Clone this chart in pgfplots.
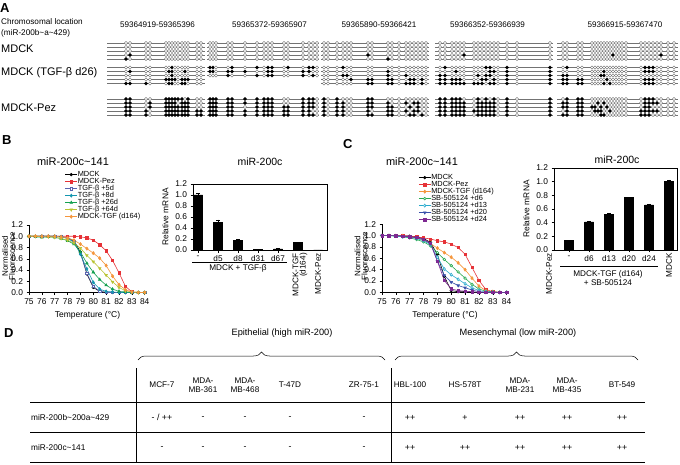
\documentclass[border=0pt]{standalone}
\usepackage{fontspec}
\setmainfont{Liberation Sans}
\usepackage{pgfplots}
\pgfplotsset{compat=1.18}
\usepackage{pgfplotstable}
\usetikzlibrary{decorations.pathreplacing}
\newcommand\fs[1]{\fontsize{#1}{#1}\selectfont}
\definecolor{cPez}{RGB}{230,50,55}
\definecolor{cFive}{RGB}{90,100,175}
\definecolor{cEight}{RGB}{20,150,175}
\definecolor{cTsix}{RGB}{20,160,80}
\definecolor{cSfour}{RGB}{185,195,50}
\definecolor{cOra}{RGB}{245,150,60}
\definecolor{cDsix}{RGB}{40,170,80}
\definecolor{cDthir}{RGB}{40,170,205}
\definecolor{cDtw}{RGB}{55,80,170}
\definecolor{cDtwf}{RGB}{125,40,145}
\pgfplotsset{
 every axis/.append style={/pgf/number format/assume math mode=true},
 legend image code/.code={\draw[mark repeat=2,mark phase=2,#1] plot coordinates {(0pt,0pt) (6pt,0pt) (12pt,0pt)};},
 lc/.style={scale only axis, axis x line*=bottom, axis y line*=left, xmin=75, ymin=0, ymax=1.2,
  xtick={75,76,77,78,79,80,81,82,83,84}, ytick={0,0.2,0.4,0.6,0.8,1.0,1.2},
  tick align=outside, major tick length=2.5pt, tick style={black, line width=0.5pt},
  axis line style={black, line width=0.6pt}, tick label style={font=\fs{8.4}},
  yticklabel style={/pgf/number format/.cd, fixed, fixed zerofill, precision=1},
  xlabel style={font=\fs{8.5}},
  legend cell align=left,
  legend style={draw=none, fill=none, font=\fs{7.4}, row sep=0pt, nodes={inner sep=0.2pt, text height=5.2pt, text depth=1.4pt}},
  every axis plot/.append style={line width=0.6pt, mark options={solid}}},
 bc/.style={scale only axis, ymin=0, ymax=1.2, ytick={0,0.2,0.4,0.6,0.8,1.0,1.2},
  yticklabel style={/pgf/number format/.cd, fixed, fixed zerofill, precision=1},
  tick label style={font=\fs{8.4}}, xticklabel style={font=\fs{8.2}},
  ylabel={Relative mRNA}, ylabel style={font=\fs{8.4}},
  axis line style={black, line width=0.6pt}, tick align=outside, major tick length=2.5pt,
  tick style={black, line width=0.5pt}, xtick pos=bottom, ytick pos=left, ybar, bar width=9pt}
}
\pgfplotstableread{
T mdck pez f5 f8 f26 f64 tgf
75 1 1 1 1 1 1 1
75.5 1 1 1 1 0.99 1 1
76 1 1 1 1 0.98 0.99 1
76.5 1 1 1 1 0.99 0.99 1
77 1 1 1 1 0.98 0.98 1
77.5 0.99 1 1 0.99 0.96 0.96 0.99
78 0.97 1 0.96 0.96 0.92 0.93 0.97
78.5 0.92 1 0.90 0.90 0.86 0.88 0.93
79 0.72 0.99 0.70 0.68 0.72 0.79 0.86
79.5 0.33 0.97 0.34 0.42 0.52 0.66 0.78
80 0.09 0.93 0.11 0.18 0.36 0.55 0.70
80.5 0.02 0.85 0.02 0.06 0.23 0.43 0.61
81 0 0.74 0 0.02 0.13 0.31 0.48
81.5 0 0.57 0 0.01 0.06 0.19 0.29
82 0 0.35 0 0 0.02 0.09 0.14
82.5 0 0.11 0 0 0.01 0.03 0.05
83 0 0.01 0 0 0 0.01 0.01
83.5 0 0 0 0 0 0 0
84 0 0 0 0 0 0 0
}\tblB
\pgfplotstableread{
T mdck pez tgf d6 d13 d20 d24
75 1 1 1 1 1 1 1
75.5 1 1 1 1 1 1 1
76 1 1 1 0.99 0.99 1 1
76.5 1 1 0.99 0.98 0.98 0.99 0.99
77 0.99 0.99 0.98 0.96 0.97 0.98 0.98
77.5 0.98 0.98 0.96 0.93 0.95 0.96 0.97
78 0.95 0.96 0.92 0.89 0.91 0.93 0.94
78.5 0.88 0.94 0.86 0.82 0.84 0.86 0.87
79 0.67 0.91 0.78 0.70 0.62 0.55 0.55
79.5 0.28 0.89 0.70 0.58 0.41 0.30 0.21
80 0.03 0.85 0.62 0.47 0.31 0.18 0.06
80.5 0.01 0.79 0.52 0.36 0.23 0.12 0.03
81 0.01 0.67 0.40 0.25 0.15 0.08 0.02
81.5 0 0.44 0.25 0.14 0.08 0.04 0.01
82 0 0.21 0.11 0.06 0.03 0.01 0
82.5 0 0.05 0.03 0.02 0.01 0 0
83 0 0.01 0.01 0.01 0 0 0
83.5 0 0 0 0 0 0 0
84 0 0 0 0 0 0 0
}\tblC
\pgfplotstableread{
x a1 a2 a3 a4 a5 b1 b2 b3 b4 b5 c1 c2 c3 c4 c5
126 u u u u m u u u u m m m m m m
130 u u u m u u m u u m m m m m m
146 u u u u u u u u u m u u u m m
150 u u u u u u u u u u u m m u u
166 u u u u u u u u m u m m m m m
169 u u u u u u m u m m m m m m m
172 u u u u u m m m m m m m m m m
175 u u u u u u u u m u m m m m m
178 u u u u u u u u u u m u m m m
182 u u u u u u u u m m m m m m m
185 u u u u u u m u m m u m m m m
188 u u u u u u u u m u m m m m m
197 u u u u u u u u u u u u u m m
201 u u u u u u u u u u u u u m m
210 u u u u u m m u n n m m m m m
213 u u u u u m m u n n m m m m m
216 u u u u u u u u n n m m m m m
228 u u u u u u m m n n m m m m m
232 u u u u u m m u n n m m m m m
245 u u u u u u m u n n m m u m m
257 u u u u u m u m n n m m m m m
264 u u u u u u u u n n m m m m m
268 u u u u u m m m n n m m m m m
272 u u u u u m m m n n m m m m m
284 u u u u u u u u n n u u m m m
288 u u u u u m u u n n u u m m m
303 u u u u u u m m n n m m m m m
309 u u u u u m m u n n m m m m m
313 u u u u u m u m n n m m m u m
317 u u u u u u u u n n u u u u u
324 u u u u u u u u u u m m m m m
328 u u u u u u u u u u u u u u u
337 u u u u u u u u u u m m m m m
343 u u u u u m u m u u u m m m m
347 u u u u u u u m u u u u u u u
351 u u u u u u u u m u u u u u u
368 u u u m u u u u m m m m m m m
372 u u u u u u u u m m m m m u m
388 u u u u m u m m m m u m m m m
392 u u u u u u u u m m u u m m m
399 u u u u u u u u u u u u u u u
406 u u u u u u u m u m u m u m u
410 u u u u u u u u m m u u m u m
414 u u u u u u u u m m u m u m m
418 u u u u u u u u u u u m m m u
422 u u u u u u u u m m u u u u m
426 u u u u u u u u u u u u u u u
440 u u u u u u u m m m m m m m m
445 u u u u u m u m m m m m m m m
452 u u u u u u u u m m m m m m m
456 u u u u u u m u m m m m m m m
460 u u u u u u u u m m m m m m m
464 u u u m u u u u u m u m m m m
474 u u u u u u u u u m u u u m u
478 u u u u u u u m u m m m m m m
482 u u u u u u u u m m u m m m m
486 u u u u u m u m m u m m m m m
490 u u u u u m m m u m u m m m m
494 u u u u u u m u m m m m m m m
498 u u u u u u u u u u u u u u u
507 u u u u u m m m m m m m m m m
517 u u u u u u u u u u u u u u u
550 u u u u u m m m m m m m m m m
563 u u u u u u u m m m u m m u m
567 u u u u u m u m m m m m m m m
578 u u u u u u u u m m m m m m m
582 u u u u u u u u m m m m m m m
592 u u u u u u u u u u u u m u u
595 u u u u u u u u u u u u m m u
598 u u u u u u u u u u u m u m u
601 u u u u u u u m u u u u m m m
604 u u u u u u m m u m u m u u m
607 u u u u u u u u m u u u m u u
610 u u u u u u u u u m u u u m u
613 u u u m u u u u u u u u u u u
616 u u u u u u u u u u u u u u u
619 u u u u u u u u u u u u u u u
622 u u u u u u u u u u u u u u u
626 u u u u u u u u u u u u u u u
641 u u u u u u u u u u u u u m m
645 u u u u u m m u m m m m m m m
649 u u u u u m m u m m m m m m m
653 u u u u u m m u m m m m u m u
657 u u u u u u u u u u u m u m u
661 u u u m u u u u u u u u u u u
668 u u u u u u u u u u u u u u u
674 u u u u u u u u u u u u u u u
}\cpg
\begin{document}
\begin{tikzpicture}
\path[use as bounding box] (0,0) rectangle (680pt,464pt);
% ---------------- Panel A
\begin{axis}[at={(0pt,339pt)}, anchor=south west, scale only axis, width=680pt, height=125pt,
 xmin=0, xmax=680, ymin=0, ymax=125, y dir=reverse, hide axis, clip=false,
 cpgs/.style={scatter, only marks, point meta=explicit symbolic,
  scatter/classes={u={mark=*, mark size=1.55pt, draw=black!60, fill=white, line width=0.3pt},
                   m={mark=*, mark size=1.55pt, draw=black, fill=black, line width=0.3pt},
                   n={mark=*, mark size=0.1pt, draw=white, fill=white}}},
 rowline/.style={black!55, line width=0.4pt, forget plot}]
\pgfplotsinvokeforeach{43,47,51,55,59,67.5,71.5,75.5,99,103,107,111,115}{
 \addplot[rowline] coordinates {(107,#1)(205,#1)};
 \addplot[rowline] coordinates {(207,#1)(319,#1)};
 \addplot[rowline] coordinates {(321,#1)(429,#1)};
 \addplot[rowline] coordinates {(435,#1)(553,#1)};
 \addplot[rowline] coordinates {(557,#1)(678,#1)};
}
\pgfplotsinvokeforeach{79.5,83.5}{
 \addplot[rowline] coordinates {(107,#1)(205,#1)};
 \addplot[rowline] coordinates {(321,#1)(429,#1)};
 \addplot[rowline] coordinates {(435,#1)(553,#1)};
 \addplot[rowline] coordinates {(557,#1)(678,#1)};
}
\addplot[cpgs] table[x=x, y expr=43, meta=a1] {\cpg};
\addplot[cpgs] table[x=x, y expr=47, meta=a2] {\cpg};
\addplot[cpgs] table[x=x, y expr=51, meta=a3] {\cpg};
\addplot[cpgs] table[x=x, y expr=55, meta=a4] {\cpg};
\addplot[cpgs] table[x=x, y expr=59, meta=a5] {\cpg};
\addplot[cpgs] table[x=x, y expr=67.5, meta=b1] {\cpg};
\addplot[cpgs] table[x=x, y expr=71.5, meta=b2] {\cpg};
\addplot[cpgs] table[x=x, y expr=75.5, meta=b3] {\cpg};
\addplot[cpgs] table[x=x, y expr=79.5, meta=b4] {\cpg};
\addplot[cpgs] table[x=x, y expr=83.5, meta=b5] {\cpg};
\addplot[cpgs] table[x=x, y expr=99, meta=c1] {\cpg};
\addplot[cpgs] table[x=x, y expr=103, meta=c2] {\cpg};
\addplot[cpgs] table[x=x, y expr=107, meta=c3] {\cpg};
\addplot[cpgs] table[x=x, y expr=111, meta=c4] {\cpg};
\addplot[cpgs] table[x=x, y expr=115, meta=c5] {\cpg};
\end{axis}
% ---------------- Panel B line
\begin{axis}[lc, at={(29pt,171.5pt)}, anchor=south west, width=117pt, height=67.5pt, xmax=84.1,
 xlabel={Temperature (°C)},
 legend style={at={(0.28,1.83)}, anchor=north west}]
\addplot[black, mark=*, mark size=1.3pt] table[x=T,y=mdck]{\tblB};
\addlegendentry{MDCK}
\addplot[cPez, mark=square*, mark size=1.2pt] table[x=T,y=pez]{\tblB};
\addlegendentry{MDCK-Pez}
\addplot[cFive, mark=square*, mark size=1.2pt, mark options={fill=white}] table[x=T,y=f5]{\tblB};
\addlegendentry{TGF-β +5d}
\addplot[cEight, mark=diamond*, mark size=1.5pt] table[x=T,y=f8]{\tblB};
\addlegendentry{TGF-β +8d}
\addplot[cTsix, mark=triangle*, mark size=1.5pt] table[x=T,y=f26]{\tblB};
\addlegendentry{TGF-β +26d}
\addplot[cSfour, mark=triangle*, mark size=1.5pt, mark options={rotate=180}] table[x=T,y=f64]{\tblB};
\addlegendentry{TGF-β +64d}
\addplot[cOra, mark=diamond*, mark size=1.6pt] table[x=T,y=tgf]{\tblB};
\addlegendentry{MDCK-TGF (d164)}
\end{axis}
% ---------------- Panel B bar
\begin{axis}[bc, at={(193pt,214pt)}, anchor=south west, width=134pt, height=66pt,
 xmin=-0.25, xmax=6.45, xtick={0,1,2,3,4}, xticklabels={-,d5,d8,d31,d67}]
\addplot[fill=black, draw=black, error bars/.cd, y dir=plus, y explicit, error bar style={black, line width=0.5pt}, error mark options={rotate=90, mark size=2pt, black}]
 coordinates {(0,1.0)+-(0,0.03) (1,0.50)+-(0,0.05) (2,0.18)+-(0,0.01) (3,0.01)+-(0,0.003) (4,0.02)+-(0,0.005) (5,0.14)+-(0,0.005) (6,0)+-(0,0)};
\end{axis}
% ---------------- Panel C line
\begin{axis}[lc, at={(382pt,171.7pt)}, anchor=south west, width=126pt, height=68pt, xmax=84.1,
 xlabel={Temperature (°C)},
 legend style={at={(0.264,1.77)}, anchor=north west}]
\addplot[black, mark=*, mark size=1.3pt] table[x=T,y=mdck]{\tblC};
\addlegendentry{MDCK}
\addplot[cPez, mark=square*, mark size=1.2pt] table[x=T,y=pez]{\tblC};
\addlegendentry{MDCK-Pez}
\addplot[cOra, mark=diamond*, mark size=1.6pt] table[x=T,y=tgf]{\tblC};
\addlegendentry{MDCK-TGF (d164)}
\addplot[cDsix, mark=*, mark size=1.3pt, mark options={fill=white}] table[x=T,y=d6]{\tblC};
\addlegendentry{SB-505124 +d6}
\addplot[cDthir, mark=diamond*, mark size=1.5pt, mark options={fill=white}] table[x=T,y=d13]{\tblC};
\addlegendentry{SB-505124 +d13}
\addplot[cDtw, mark=triangle*, mark size=1.5pt, mark options={rotate=180}] table[x=T,y=d20]{\tblC};
\addlegendentry{SB-505124 +d20}
\addplot[cDtwf, mark=square*, mark size=1.2pt] table[x=T,y=d24]{\tblC};
\addlegendentry{SB-505124 +d24}
\end{axis}
% ---------------- Panel C bar
\begin{axis}[bc, at={(554pt,214pt)}, anchor=south west, width=123pt, height=82pt,
 xmin=0.25, xmax=6.4, xtick={1,2,3,4,5}, xticklabels={-,d6,d13,d20,d24}]
\addplot[fill=black, draw=black, error bars/.cd, y dir=plus, y explicit, error bar style={black, line width=0.5pt}, error mark options={rotate=90, mark size=2pt, black}]
 coordinates {(1,0.14)+-(0,0.005) (2,0.41)+-(0,0.01) (3,0.52)+-(0,0.012) (4,0.77)+-(0,0.005) (5,0.66)+-(0,0.015) (6,1.0)+-(0,0.025)};
\end{axis}
% ---------------- text
\begin{scope}[x=1pt,y=1pt]
\node[anchor=west, font=\bfseries\fs{13}, inner sep=0] at (0,456) {A};
\node[anchor=west, font=\bfseries\fs{13}, inner sep=0] at (2,324) {B};
\node[anchor=west, font=\bfseries\fs{13}, inner sep=0] at (343,320) {C};
\node[anchor=west, font=\bfseries\fs{13}, inner sep=0] at (4,131) {D};
% y labels of melt curves
\node[rotate=90, align=center, font=\fontsize{8}{7.2}\selectfont, inner sep=0] at (8.5,208) {Normalised\\Fluorescence};
\node[rotate=90, align=center, font=\fontsize{8}{7.2}\selectfont, inner sep=0] at (361,208) {Normalised\\Fluorescence};
% A labels
\node[anchor=west, font=\fs{8.2}, inner sep=0] at (1,442) {Chromosomal location};
\node[anchor=west, font=\fs{8.2}, inner sep=0] at (1,431) {(miR-200b\textasciitilde a\textasciitilde 429)};
\node[anchor=west, font=\fs{11}, inner sep=0] at (1,415) {MDCK};
\node[anchor=west, font=\fs{11}, inner sep=0] at (1,391) {MDCK (TGF-β d26)};
\node[anchor=west, font=\fs{11}, inner sep=0] at (1,356) {MDCK-Pez};
\node[font=\fs{8.1}, inner sep=0] at (157.5,439) {59364919-59365396};
\node[font=\fs{8.1}, inner sep=0] at (269.5,439) {59365372-59365907};
\node[font=\fs{8.1}, inner sep=0] at (379,439) {59365890-59366421};
\node[font=\fs{8.1}, inner sep=0] at (487.5,439) {59366352-59366939};
\node[font=\fs{8.1}, inner sep=0] at (625,439) {59366915-59367470};
% titles
\node[font=\fs{11}, inner sep=0] at (73,302) {miR-200c\textasciitilde 141};
\node[font=\fs{11}, inner sep=0] at (422,302) {miR-200c\textasciitilde 141};
\node[font=\fs{10.5}, inner sep=0] at (260,302) {miR-200c};
\node[font=\fs{10.5}, inner sep=0] at (617,304) {miR-200c};
% B bar extra labels
\node[rotate=90, anchor=east, align=right, font=\fontsize{8.2}{7.2}\selectfont, inner sep=0] at (300,211) {MDCK-TGF\\(d164)};
\node[rotate=90, anchor=east, font=\fs{8.2}, inner sep=0] at (318,211) {MDCK-Pez};
\draw[line width=0.5pt] (192,202) -- (287,202);
\node[font=\fs{8.2}, inner sep=0] at (238,196) {MDCK + TGF-β};
% C bar extra labels
\node[rotate=90, anchor=east, font=\fs{8.2}, inner sep=0] at (549,211) {MDCK-Pez};
\node[rotate=90, anchor=east, font=\fs{8.2}, inner sep=0] at (669,211) {MDCK};
\draw[line width=0.5pt] (560,198) -- (658,198);
\node[font=\fs{8.2}, inner sep=0] at (608,190) {MDCK-TGF (d164)};
\node[font=\fs{8.2}, inner sep=0] at (608,181) {+ SB-505124};
% D table
\node[font=\fs{9.2}, inner sep=0] at (282,131) {Epithelial (high miR-200)};
\node[font=\fs{9.2}, inner sep=0] at (518,131) {Mesenchymal (low miR-200)};
\draw[decorate, decoration={brace, amplitude=8pt}, line width=0.5pt] (138,104) -- (385,104);
\draw[decorate, decoration={brace, amplitude=8pt}, line width=0.5pt] (395,104) -- (638,104);
\draw[line width=0.6pt] (30,61.3) -- (645,61.3);
\draw[line width=0.6pt] (30,31.3) -- (645,31.3);
\draw[line width=0.6pt] (30,1.3) -- (645,1.3);
\draw[line width=0.6pt] (136,96) -- (136,1.3);
\draw[line width=0.6pt] (391,96) -- (391,1.3);
\node[anchor=west, font=\fs{8.3}, inner sep=0] at (31,46.3) {miR-200b\textasciitilde 200a\textasciitilde 429};
\node[anchor=west, font=\fs{8.3}, inner sep=0] at (31,16.3) {miR-200c\textasciitilde 141};
\foreach \cx/\nm/\ra/\rb in {162/{MCF-7}/{- / ++}/-, 203/{MDA-\\MB-361}/-/-, 245/{MDA-\\MB-468}/-/-, 290/{T-47D}/-/-, 364/{ZR-75-1}/-/-, 410/{HBL-100}/++/++, 465/{HS-578T}/+/++, 520/{MDA-\\MB-231}/++/++, 567/{MDA-\\MB-435}/++/++, 622/{BT-549}/++/++}{
 \node[align=center, font=\fontsize{8.2}{9.2}\selectfont, inner sep=0] at (\cx,79) {\nm};
 \node[font=\fs{8.8}, inner sep=0] at (\cx,46.3) {\ra};
 \node[font=\fs{8.8}, inner sep=0] at (\cx,16.3) {\rb};
}
\end{scope}
\end{tikzpicture}
\end{document}
